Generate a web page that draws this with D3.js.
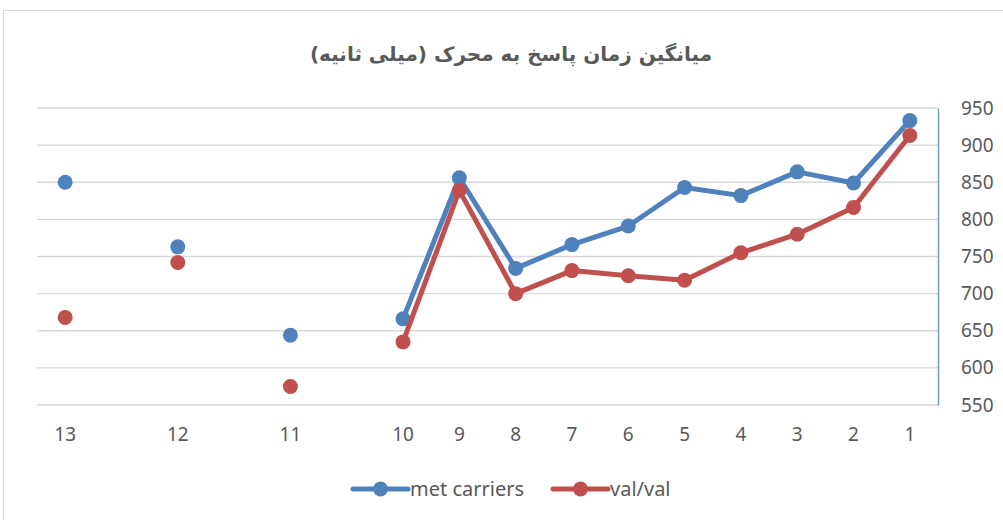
<!DOCTYPE html>
<html><head><meta charset="utf-8">
<script src="https://cdn.jsdelivr.net/npm/d3@7"></script>
<style>
html,body{margin:0;padding:0;background:#fff;}
svg{display:block;}
</style></head>
<body>
<svg id="chart" width="1003" height="520"></svg>
<script>
// Category slots (blank slots as in the source sheet)
const categories = ["13","","12","","11","","10","9","8","7","6","5","4","3","2","1"];
const metCarriers = [850, null, 763, null, 644, null, 666, 856, 734, 766, 791, 843, 832, 864, 849, 933];
const valVal      = [668, null, 742, null, 575, null, 635, 839, 700, 731, 724, 718, 755, 780, 816, 913];
const yTicks = [550, 600, 650, 700, 750, 800, 850, 900, 950];
const seriesNames = ["met carriers", "val/val"];
const titleText = "میانگین زمان پاسخ به محرک (میلی ثانیه)";

(function(){
const svg = d3.select("#chart");
const colors = ["#4f81bd", "#c0504d"];

// chart border
svg.append("rect").attr("x", 3.5).attr("y", 10.5).attr("width", 1010).attr("height", 520)
  .attr("fill", "#fff").attr("stroke", "#d9d9d9").attr("stroke-width", 1);

const pl = 37, pr = 938, pt = 108, pb = 405;
const x = d3.scaleBand().domain(d3.range(categories.length)).range([pl, pr]).padding(0);
const y = d3.scaleLinear().domain([550, 950]).range([pb, pt]);
const cx = i => x(i) + x.bandwidth() / 2;

// gridlines
svg.append("g").selectAll("line").data(yTicks).join("line")
  .attr("x1", pl).attr("x2", pr)
  .attr("y1", d => y(d)).attr("y2", d => y(d))
  .attr("stroke", "#d9d9d9").attr("stroke-width", 1.3);

// right axis
const yAxis = d3.axisRight(y).tickValues(yTicks).tickSize(0).tickPadding(23);
const ga = svg.append("g").attr("transform", `translate(${pr},0)`).call(yAxis);
ga.select(".domain").attr("stroke", "#6f9ad0").attr("stroke-width", 1.5);
ga.selectAll("text").attr("fill", "#595959").attr("font-family", "'Noto Sans', sans-serif").attr("font-size", 19);

// x axis labels
const xAxis = d3.axisBottom(x).tickSize(0).tickPadding(0).tickFormat(i => categories[i]);
const gx = svg.append("g").attr("transform", `translate(0,${pb + 22})`).call(xAxis);
gx.select(".domain").remove();
gx.selectAll("text").attr("fill", "#595959").attr("font-family", "'Noto Sans', sans-serif").attr("font-size", 19);

// series
const series = [metCarriers, valVal];
const line = d3.line().defined(d => d.v != null).x(d => cx(d.i)).y(d => y(d.v));
series.forEach((s, k) => {
  const pts = s.map((v, i) => ({i, v}));
  svg.append("path").datum(pts).attr("d", line).attr("fill", "none")
    .attr("stroke", colors[k]).attr("stroke-width", 5).attr("stroke-linejoin", "round");
  svg.append("g").selectAll("circle").data(pts.filter(d => d.v != null)).join("circle")
    .attr("cx", d => cx(d.i)).attr("cy", d => y(d.v)).attr("r", 7.5).attr("fill", colors[k]);
});

// title
svg.append("text").attr("x", 511).attr("y", 61).attr("text-anchor", "middle")
  .attr("direction", "rtl")
  .attr("font-family", "'DejaVu Sans', sans-serif").attr("font-weight", "bold").attr("font-size", 20)
  .attr("fill", "#595959").text(titleText);

// legend
const legendX = [353, 553];
seriesNames.forEach((n, k) => {
  const g = svg.append("g").attr("transform", `translate(${legendX[k]},489)`);
  g.append("line").attr("x1", 0).attr("x2", 55).attr("y1", 0).attr("y2", 0)
    .attr("stroke", colors[k]).attr("stroke-width", 5).attr("stroke-linecap", "round");
  g.append("circle").attr("cx", 27.5).attr("cy", 0).attr("r", 7.5).attr("fill", colors[k]);
  g.append("text").attr("x", 57).attr("y", 7).attr("fill", "#595959")
    .attr("font-family", "'Noto Sans', sans-serif").attr("font-size", 20).text(n);
});
})();
</script>
</body></html>
